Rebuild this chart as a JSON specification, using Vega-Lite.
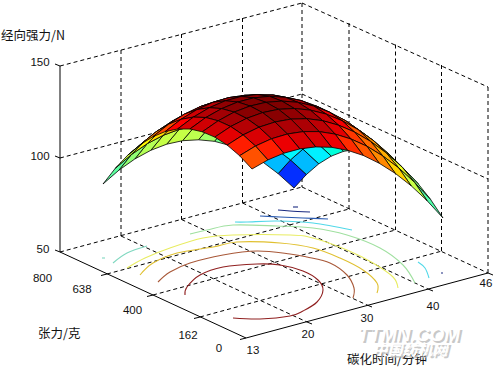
{"$schema":"https://vega.github.io/schema/vega-lite/v6.json","width":497,"height":368,"padding":0,"autosize":{"type":"none"},"background":"white","config":{"view":{"stroke":null}},
"datasets":{
"dash":[{"x":107,"y":274,"x2":349,"y2":209},{"x":153,"y":295,"x2":395.5,"y2":230},{"x":200,"y":317,"x2":442,"y2":251},{"x":121,"y":236,"x2":307,"y2":322},{"x":181.5,"y":219.5,"x2":367,"y2":305},{"x":242.5,"y":203,"x2":428,"y2":289},{"x":60,"y":252,"x2":302,"y2":187},{"x":302,"y":187,"x2":488,"y2":273},{"x":121,"y":50,"x2":121,"y2":236},{"x":181.5,"y":34,"x2":181.5,"y2":219.5},{"x":242.5,"y":18,"x2":242.5,"y2":203},{"x":302,"y":3,"x2":302,"y2":187},{"x":349,"y":23,"x2":349,"y2":209},{"x":395.5,"y":44.5,"x2":395.5,"y2":230},{"x":441.5,"y":65,"x2":441.5,"y2":251},{"x":488,"y":87,"x2":488,"y2":273},{"x":60,"y":158,"x2":302,"y2":94},{"x":302,"y":94,"x2":488,"y2":179},{"x":60,"y":66,"x2":302,"y2":3},{"x":302,"y":3,"x2":488,"y2":87}],
"solid":[{"x":60,"y":66,"x2":60,"y2":252},{"x":60,"y":252,"x2":246,"y2":338},{"x":246,"y":338,"x2":488,"y2":273},{"x":55,"y":64,"x2":60,"y2":66},{"x":55,"y":156,"x2":60,"y2":158},{"x":55,"y":250,"x2":60,"y2":252},{"x":101,"y":275.5,"x2":107,"y2":274},{"x":147,"y":296.5,"x2":153,"y2":295},{"x":194,"y":318.5,"x2":200,"y2":317},{"x":240,"y":339.5,"x2":246,"y2":338},{"x":307,"y":322,"x2":312,"y2":324},{"x":367,"y":305,"x2":372,"y2":307},{"x":428,"y":289,"x2":433,"y2":291},{"x":488,"y":273,"x2":493,"y2":275}],
"contours":[{"l":"c1","lv":"1","x":[278,290,310],"y":[210,211,212]},{"l":"c2","lv":"1","x":[293,298],"y":[207,207]},{"l":"c3","lv":"2","x":[260,280,303,328],"y":[216,217,218,219]},{"l":"c4","lv":"3","x":[235,247,277,313,352],"y":[222,222,221,223,230]},{"l":"c5","lv":"4","x":[113,127,147],"y":[263,253,246]},{"l":"c6","lv":"3","x":[418,425,429],"y":[262,268,278]},{"l":"c7","lv":"4","x":[102,105],"y":[258,258]},{"l":"c8","lv":"1","x":[441,443],"y":[273,273]},{"l":"c9","lv":"5","x":[190,207,233,277,313,347,380,403,415],"y":[234,230,225,226,228,235,248,265,283]},{"l":"c10","lv":"6","x":[127,145,170,203,233,290,313,347,373,393,398],"y":[268,258,248,238,235,235,238,250,263,277,288]},{"l":"c11","lv":"7","x":[140,153,177,213,237,280,313,340,363,377,377],"y":[275,263,253,247,242,243,248,258,270,283,293]},{"l":"c12","lv":"8","x":[158,170,190,223,257,290,307,330,347,354,353],"y":[282,272,263,255,251,254,257,263,275,288,298]},{"l":"c13","lv":"9","x":[185,187,200,223,257,280,303,318,323,317,303,290,260,233],"y":[295,287,275,267,264,265,271,280,290,302,311,316,319,318]}],
"verts":[
{"id":0,"x":252,"y":169},{"id":1,"x":267.9,"y":159.9},{"id":2,"x":283.8,"y":153.2},{"id":3,"x":299.8,"y":148.9},{"id":4,"x":315.7,"y":146.9},{"id":5,"x":331.6,"y":147.3},{"id":6,"x":347.5,"y":150.3},{"id":7,"x":363.4,"y":155.5},{"id":8,"x":379.3,"y":163.3},{"id":9,"x":395.3,"y":173.4},{"id":10,"x":411.2,"y":185.8},{"id":11,"x":427.1,"y":200.7},{"id":12,"x":443,"y":218},
{"id":100,"x":239.6,"y":155.7},{"id":101,"x":255.5,"y":146},{"id":102,"x":271.4,"y":138.8},{"id":103,"x":287.4,"y":134},{"id":104,"x":303.3,"y":131.6},{"id":105,"x":319.2,"y":131.6},{"id":106,"x":335.1,"y":134.1},{"id":107,"x":351,"y":139},{"id":108,"x":366.9,"y":146.2},{"id":109,"x":382.9,"y":156},{"id":110,"x":398.8,"y":168},{"id":111,"x":414.7,"y":182.5},{"id":112,"x":430.6,"y":199.5},
{"id":200,"x":227.2,"y":145.1},{"id":201,"x":243.1,"y":134.9},{"id":202,"x":259,"y":127.2},{"id":203,"x":275,"y":122},{"id":204,"x":290.9,"y":119.1},{"id":205,"x":306.8,"y":118.7},{"id":206,"x":322.7,"y":120.7},{"id":207,"x":338.6,"y":125.2},{"id":208,"x":354.5,"y":132},{"id":209,"x":370.5,"y":141.3},{"id":210,"x":386.4,"y":153},{"id":211,"x":402.3,"y":167.2},{"id":212,"x":418.2,"y":183.8},
{"id":300,"x":214.8,"y":137.1},{"id":301,"x":230.7,"y":126.5},{"id":302,"x":246.6,"y":118.4},{"id":303,"x":262.6,"y":112.6},{"id":304,"x":278.5,"y":109.3},{"id":305,"x":294.4,"y":108.5},{"id":306,"x":310.3,"y":110.1},{"id":307,"x":326.2,"y":114.1},{"id":308,"x":342.1,"y":120.7},{"id":309,"x":358.1,"y":129.6},{"id":310,"x":374,"y":141},{"id":311,"x":389.9,"y":154.9},{"id":312,"x":405.8,"y":171.1},
{"id":400,"x":202.3,"y":131.8},{"id":401,"x":218.2,"y":120.8},{"id":402,"x":234.1,"y":112.1},{"id":403,"x":250.1,"y":106},{"id":404,"x":266,"y":102.3},{"id":405,"x":281.9,"y":101.1},{"id":406,"x":297.8,"y":102.3},{"id":407,"x":313.7,"y":106},{"id":408,"x":329.6,"y":112.2},{"id":409,"x":345.6,"y":120.7},{"id":410,"x":361.5,"y":131.8},{"id":411,"x":377.4,"y":145.3},{"id":412,"x":393.3,"y":161.3},
{"id":500,"x":189.9,"y":129},{"id":501,"x":205.8,"y":117.5},{"id":502,"x":221.7,"y":108.6},{"id":503,"x":237.7,"y":102},{"id":504,"x":253.6,"y":97.9},{"id":505,"x":269.5,"y":96.3},{"id":506,"x":285.4,"y":97.3},{"id":507,"x":301.3,"y":100.6},{"id":508,"x":317.2,"y":106.4},{"id":509,"x":333.2,"y":114.7},{"id":510,"x":349.1,"y":125.6},{"id":511,"x":365,"y":138.8},{"id":512,"x":380.9,"y":154.5},
{"id":600,"x":177.5,"y":129},{"id":601,"x":193.4,"y":117.1},{"id":602,"x":209.3,"y":107.7},{"id":603,"x":225.3,"y":100.8},{"id":604,"x":241.2,"y":96.4},{"id":605,"x":257.1,"y":94.5},{"id":606,"x":273,"y":95},{"id":607,"x":288.9,"y":98},{"id":608,"x":304.8,"y":103.5},{"id":609,"x":320.8,"y":111.5},{"id":610,"x":336.7,"y":122},{"id":611,"x":352.6,"y":135},{"id":612,"x":368.5,"y":150.5},
{"id":700,"x":165.1,"y":131.6},{"id":701,"x":181,"y":119.3},{"id":702,"x":196.9,"y":109.6},{"id":703,"x":212.9,"y":102.3},{"id":704,"x":228.8,"y":97.6},{"id":705,"x":244.7,"y":95.3},{"id":706,"x":260.6,"y":95.6},{"id":707,"x":276.5,"y":98.3},{"id":708,"x":292.4,"y":103.5},{"id":709,"x":308.4,"y":111.3},{"id":710,"x":324.3,"y":121.5},{"id":711,"x":340.2,"y":134.3},{"id":712,"x":356.1,"y":149.5},
{"id":800,"x":152.7,"y":136.8},{"id":801,"x":168.6,"y":124.2},{"id":802,"x":184.5,"y":114.1},{"id":803,"x":200.5,"y":106.5},{"id":804,"x":216.4,"y":101.4},{"id":805,"x":232.3,"y":98.8},{"id":806,"x":248.2,"y":98.8},{"id":807,"x":264.1,"y":101.3},{"id":808,"x":280,"y":106.3},{"id":809,"x":296,"y":113.8},{"id":810,"x":311.9,"y":123.8},{"id":811,"x":327.8,"y":136.3},{"id":812,"x":343.7,"y":151.3},
{"id":900,"x":140.3,"y":144.6},{"id":901,"x":156.2,"y":131.7},{"id":902,"x":172.1,"y":121.2},{"id":903,"x":188.1,"y":113.4},{"id":904,"x":204,"y":108},{"id":905,"x":219.9,"y":105.2},{"id":906,"x":235.8,"y":104.8},{"id":907,"x":251.7,"y":107.1},{"id":908,"x":267.6,"y":111.9},{"id":909,"x":283.6,"y":119.1},{"id":910,"x":299.5,"y":128.9},{"id":911,"x":315.4,"y":141.2},{"id":912,"x":331.3,"y":156.1},
{"id":1000,"x":127.8,"y":155.1},{"id":1001,"x":143.7,"y":141.8},{"id":1002,"x":159.6,"y":131.2},{"id":1003,"x":175.6,"y":123},{"id":1004,"x":191.5,"y":117.3},{"id":1005,"x":207.4,"y":114.2},{"id":1006,"x":223.3,"y":113.7},{"id":1007,"x":239.2,"y":115.7},{"id":1008,"x":255.1,"y":120.2},{"id":1009,"x":271.1,"y":127.3},{"id":1010,"x":287,"y":137},{"id":1011,"x":302.9,"y":149.1},{"id":1012,"x":318.8,"y":163.8},
{"id":1100,"x":115.4,"y":168.2},{"id":1101,"x":131.3,"y":154.6},{"id":1102,"x":147.2,"y":143.7},{"id":1103,"x":163.2,"y":135.3},{"id":1104,"x":179.1,"y":129.4},{"id":1105,"x":195,"y":126.1},{"id":1106,"x":210.9,"y":125.4},{"id":1107,"x":226.8,"y":127.2},{"id":1108,"x":242.7,"y":131.5},{"id":1109,"x":258.7,"y":138.4},{"id":1110,"x":274.6,"y":147.9},{"id":1111,"x":290.5,"y":159.9},{"id":1112,"x":306.4,"y":174.5},
{"id":1200,"x":103,"y":184},{"id":1201,"x":118.9,"y":170.2},{"id":1202,"x":134.8,"y":159},{"id":1203,"x":150.8,"y":150.3},{"id":1204,"x":166.7,"y":144.2},{"id":1205,"x":182.6,"y":140.7},{"id":1206,"x":198.5,"y":139.8},{"id":1207,"x":214.4,"y":141.3},{"id":1208,"x":230.3,"y":145.6},{"id":1209,"x":246.3,"y":152.3},{"id":1210,"x":262.2,"y":161.6},{"id":1211,"x":278.1,"y":173.6},{"id":1212,"x":294,"y":188}],
"quads":[
{"q":1111,"z":0.15,"k":[1111,1211,1212,1112,1111]},{"q":1110,"z":0.33,"k":[1110,1210,1211,1111,1110]},{"q":1109,"z":0.41,"k":[1109,1209,1210,1110,1109]},{"q":1108,"z":0.49,"k":[1108,1208,1209,1109,1108]},{"q":1107,"z":0.55,"k":[1107,1207,1208,1108,1107]},{"q":1106,"z":0.60,"k":[1106,1206,1207,1107,1106]},{"q":1105,"z":0.63,"k":[1105,1205,1206,1106,1105]},{"q":1104,"z":0.64,"k":[1104,1204,1205,1105,1104]},{"q":1103,"z":0.64,"k":[1103,1203,1204,1104,1103]},{"q":1102,"z":0.62,"k":[1102,1202,1203,1103,1102]},{"q":1101,"z":0.58,"k":[1101,1201,1202,1102,1101]},{"q":1100,"z":0.53,"k":[1100,1200,1201,1101,1100]},
{"q":1011,"z":0.33,"k":[1011,1111,1112,1012,1011]},{"q":1010,"z":0.41,"k":[1010,1110,1111,1011,1010]},{"q":1009,"z":0.51,"k":[1009,1109,1110,1010,1009]},{"q":1008,"z":0.60,"k":[1008,1108,1109,1009,1008]},{"q":1007,"z":0.66,"k":[1007,1107,1108,1008,1007]},{"q":1006,"z":0.71,"k":[1006,1106,1107,1007,1006]},{"q":1005,"z":0.75,"k":[1005,1105,1106,1006,1005]},{"q":1004,"z":0.76,"k":[1004,1104,1105,1005,1004]},{"q":1003,"z":0.76,"k":[1003,1103,1104,1004,1003]},{"q":1002,"z":0.74,"k":[1002,1102,1103,1003,1002]},{"q":1001,"z":0.71,"k":[1001,1101,1102,1002,1001]},{"q":1000,"z":0.65,"k":[1000,1100,1101,1001,1000]},
{"q":911,"z":0.40,"k":[911,1011,1012,912,911]},{"q":910,"z":0.50,"k":[910,1010,1011,911,910]},{"q":909,"z":0.61,"k":[909,1009,1010,910,909]},{"q":908,"z":0.69,"k":[908,1008,1009,909,908]},{"q":907,"z":0.76,"k":[907,1007,1008,908,907]},{"q":906,"z":0.81,"k":[906,1006,1007,907,906]},{"q":905,"z":0.85,"k":[905,1005,1006,906,905]},{"q":904,"z":0.86,"k":[904,1004,1005,905,904]},{"q":903,"z":0.86,"k":[903,1003,1004,904,903]},{"q":902,"z":0.85,"k":[902,1002,1003,903,902]},{"q":901,"z":0.81,"k":[901,1001,1002,902,901]},{"q":900,"z":0.76,"k":[900,1000,1001,901,900]},
{"q":811,"z":0.47,"k":[811,911,912,812,811]},{"q":810,"z":0.58,"k":[810,910,911,811,810]},{"q":809,"z":0.68,"k":[809,909,910,810,809]},{"q":808,"z":0.77,"k":[808,908,909,809,808]},{"q":807,"z":0.84,"k":[807,907,908,808,807]},{"q":806,"z":0.89,"k":[806,906,907,807,806]},{"q":805,"z":0.93,"k":[805,905,906,806,805]},{"q":804,"z":0.95,"k":[804,904,905,805,804]},{"q":803,"z":0.95,"k":[803,903,904,804,803]},{"q":802,"z":0.94,"k":[802,902,903,803,802]},{"q":801,"z":0.90,"k":[801,901,902,802,801]},{"q":800,"z":0.85,"k":[800,900,901,801,800]},
{"q":711,"z":0.51,"k":[711,811,812,712,711]},{"q":710,"z":0.64,"k":[710,810,811,711,710]},{"q":709,"z":0.74,"k":[709,809,810,710,709]},{"q":708,"z":0.83,"k":[708,808,809,709,708]},{"q":707,"z":0.91,"k":[707,807,808,708,707]},{"q":706,"z":0.96,"k":[706,806,807,707,706]},{"q":705,"z":1.00,"k":[705,805,806,706,705]},{"q":704,"z":1.02,"k":[704,804,805,705,704]},{"q":703,"z":1.02,"k":[703,803,804,704,703]},{"q":702,"z":1.01,"k":[702,802,803,703,702]},{"q":701,"z":0.97,"k":[701,801,802,702,701]},{"q":700,"z":0.93,"k":[700,800,801,701,700]},
{"q":611,"z":0.56,"k":[611,711,712,612,611]},{"q":610,"z":0.68,"k":[610,710,711,611,610]},{"q":609,"z":0.79,"k":[609,709,710,610,609]},{"q":608,"z":0.88,"k":[608,708,709,609,608]},{"q":607,"z":0.95,"k":[607,707,708,608,607]},{"q":606,"z":1.01,"k":[606,706,707,607,606]},{"q":605,"z":1.05,"k":[605,705,706,606,605]},{"q":604,"z":1.07,"k":[604,704,705,605,604]},{"q":603,"z":1.07,"k":[603,703,704,604,603]},{"q":602,"z":1.06,"k":[602,702,703,603,602]},{"q":601,"z":1.03,"k":[601,701,702,602,601]},{"q":600,"z":0.98,"k":[600,700,701,601,600]},
{"q":511,"z":0.58,"k":[511,611,612,512,511]},{"q":510,"z":0.71,"k":[510,610,611,511,510]},{"q":509,"z":0.82,"k":[509,609,610,510,509]},{"q":508,"z":0.91,"k":[508,608,609,509,508]},{"q":507,"z":0.99,"k":[507,607,608,508,507]},{"q":506,"z":1.04,"k":[506,606,607,507,506]},{"q":505,"z":1.08,"k":[505,605,606,506,505]},{"q":504,"z":1.10,"k":[504,604,605,505,504]},{"q":503,"z":1.11,"k":[503,603,604,504,503]},{"q":502,"z":1.10,"k":[502,602,603,503,502]},{"q":501,"z":1.06,"k":[501,601,602,502,501]},{"q":500,"z":1.02,"k":[500,600,601,501,500]},
{"q":411,"z":0.60,"k":[411,511,512,412,411]},{"q":410,"z":0.72,"k":[410,510,511,411,410]},{"q":409,"z":0.83,"k":[409,509,510,410,409]},{"q":408,"z":0.93,"k":[408,508,509,409,408]},{"q":407,"z":1.00,"k":[407,507,508,408,407]},{"q":406,"z":1.06,"k":[406,506,507,407,406]},{"q":405,"z":1.10,"k":[405,505,506,406,405]},{"q":404,"z":1.12,"k":[404,504,505,405,404]},{"q":403,"z":1.12,"k":[403,503,504,404,403]},{"q":402,"z":1.11,"k":[402,502,503,403,402]},{"q":401,"z":1.08,"k":[401,501,502,402,401]},{"q":400,"z":1.03,"k":[400,500,501,401,400]},
{"q":311,"z":0.60,"k":[311,411,412,312,311]},{"q":310,"z":0.72,"k":[310,410,411,311,310]},{"q":309,"z":0.83,"k":[309,409,410,310,309]},{"q":308,"z":0.93,"k":[308,408,409,309,308]},{"q":307,"z":1.00,"k":[307,407,408,308,307]},{"q":306,"z":1.06,"k":[306,406,407,307,306]},{"q":305,"z":1.10,"k":[305,405,406,306,305]},{"q":304,"z":1.12,"k":[304,404,405,305,304]},{"q":303,"z":1.12,"k":[303,403,404,304,303]},{"q":302,"z":1.11,"k":[302,402,403,303,302]},{"q":301,"z":1.08,"k":[301,401,402,302,301]},{"q":300,"z":1.03,"k":[300,400,401,301,300]},
{"q":211,"z":0.58,"k":[211,311,312,212,211]},{"q":210,"z":0.71,"k":[210,310,311,211,210]},{"q":209,"z":0.82,"k":[209,309,310,210,209]},{"q":208,"z":0.91,"k":[208,308,309,209,208]},{"q":207,"z":0.99,"k":[207,307,308,208,207]},{"q":206,"z":1.04,"k":[206,306,307,207,206]},{"q":205,"z":1.08,"k":[205,305,306,206,205]},{"q":204,"z":1.10,"k":[204,304,305,205,204]},{"q":203,"z":1.11,"k":[203,303,304,204,203]},{"q":202,"z":1.09,"k":[202,302,303,203,202]},{"q":201,"z":1.06,"k":[201,301,302,202,201]},{"q":200,"z":1.01,"k":[200,300,301,201,200]},
{"q":111,"z":0.56,"k":[111,211,212,112,111]},{"q":110,"z":0.68,"k":[110,210,211,111,110]},{"q":109,"z":0.79,"k":[109,209,210,110,109]},{"q":108,"z":0.88,"k":[108,208,209,109,108]},{"q":107,"z":0.95,"k":[107,207,208,108,107]},{"q":106,"z":1.01,"k":[106,206,207,107,106]},{"q":105,"z":1.05,"k":[105,205,206,106,105]},{"q":104,"z":1.07,"k":[104,204,205,105,104]},{"q":103,"z":1.07,"k":[103,203,204,104,103]},{"q":102,"z":1.06,"k":[102,202,203,103,102]},{"q":101,"z":1.02,"k":[101,201,202,102,101]},{"q":100,"z":0.97,"k":[100,200,201,101,100]},
{"q":11,"z":0.52,"k":[11,111,112,12,11]},{"q":10,"z":0.64,"k":[10,110,111,11,10]},{"q":9,"z":0.75,"k":[9,109,110,10,9]},{"q":8,"z":0.83,"k":[8,108,109,9,8]},{"q":7,"z":0.91,"k":[7,107,108,8,7]},{"q":6,"z":0.96,"k":[6,106,107,7,6]},{"q":5,"z":1.00,"k":[5,105,106,6,5]},{"q":4,"z":1.02,"k":[4,104,105,5,4]},{"q":3,"z":1.02,"k":[3,103,104,4,3]},{"q":2,"z":1.00,"k":[2,102,103,3,2]},{"q":1,"z":0.97,"k":[1,101,102,2,1]},{"q":0,"z":0.92,"k":[0,100,101,1,0]}],
"nums":[{"x":40,"y":63,"t":"150"},{"x":40,"y":157,"t":"100"},{"x":43,"y":250,"t":"50"},{"x":42.5,"y":279,"t":"800"},{"x":82,"y":290,"t":"638"},{"x":132.5,"y":311,"t":"400"},{"x":188,"y":336,"t":"162"},{"x":219,"y":349,"t":"0"},{"x":253,"y":351,"t":"13"},{"x":308,"y":335,"t":"20"},{"x":367,"y":319,"t":"30"},{"x":433,"y":307,"t":"40"},{"x":486,"y":284,"t":"46"}],
"titles":[{"x":1,"y":36,"t":"经向强力/N"},{"x":38,"y":334,"t":"张力/克"},{"x":347,"y":360,"t":"碳化时间/分钟"}],
"mark1":[{"x":409,"y":335,"t":"TTMN.COM"}],
"mark2":[{"x":410,"y":350,"t":"中国纺机网"}]
},
"encoding":{"x":{"field":"x","type":"quantitative","axis":null,"scale":{"domain":[0,497],"nice":false,"zero":false}},"y":{"field":"y","type":"quantitative","axis":null,"scale":{"domain":[368,0],"nice":false,"zero":false}}},
"layer":[
{"data":{"name":"dash"},"mark":{"type":"rule","color":"#000","strokeWidth":1,"strokeDash":[4,3]},"encoding":{"x2":{"field":"x2"},"y2":{"field":"y2"}}},
{"data":{"name":"contours"},"transform":[{"flatten":["x","y"]},{"window":[{"op":"row_number","as":"o"}],"groupby":["l"]}],"mark":{"type":"line","strokeWidth":1.1,"interpolate":"cardinal"},"encoding":{"detail":{"field":"l"},"order":{"field":"o","type":"quantitative"},"stroke":{"field":"lv","type":"nominal","legend":null,"scale":{"domain":["1","2","3","4","5","6","7","8","9"],"range":["#1a2a80","#2a5ab0","#50d8e8","#80d8c0","#a0e0a0","#e8ec60","#e0c030","#a85838","#902020"]}}}},
{"data":{"name":"solid"},"mark":{"type":"rule","color":"#000","strokeWidth":1},"encoding":{"x2":{"field":"x2"},"y2":{"field":"y2"}}},
{"data":{"name":"quads"},"transform":[{"flatten":["k"]},{"window":[{"op":"row_number","as":"o"}],"groupby":["q"]},{"lookup":"k","from":{"data":{"name":"verts"},"key":"id","fields":["x","y"]}}],"mark":{"type":"line","stroke":"#000","strokeWidth":0.8,"strokeJoin":"round"},"encoding":{"detail":{"field":"q"},"order":{"field":"o","type":"quantitative"},"fill":{"field":"z","type":"quantitative","legend":null,"scale":{"domain":[0,0.14,0.28,0.42,0.56,0.7,0.84,0.98,1.12],"range":["#000080","#2020ff","#1090ff","#20ffff","#80ff80","#ffff00","#ff8000","#ff0000","#800000"],"clamp":true}}}},
{"data":{"name":"nums"},"mark":{"type":"text","font":"Liberation Sans","fontSize":11.5,"color":"#111","align":"center","baseline":"middle"},"encoding":{"text":{"field":"t"}}},
{"data":{"name":"titles"},"mark":{"type":"text","font":"Noto Sans CJK SC","fontSize":12.5,"color":"#111","align":"left","baseline":"middle"},"encoding":{"text":{"field":"t"}}},
{"data":{"name":"mark1"},"mark":{"type":"text","font":"Liberation Sans","fontSize":19,"fontWeight":"bold","fontStyle":"italic","color":"#bbbbbb","align":"center","baseline":"middle","dx":2,"dy":2,"opacity":0.8},"encoding":{"text":{"field":"t"}}},
{"data":{"name":"mark1"},"mark":{"type":"text","font":"Liberation Sans","fontSize":19,"fontWeight":"bold","fontStyle":"italic","color":"#ffffff","align":"center","baseline":"middle"},"encoding":{"text":{"field":"t"}}},
{"data":{"name":"mark2"},"mark":{"type":"text","font":"Noto Sans CJK SC","fontSize":15,"fontWeight":"bold","fontStyle":"italic","color":"#bbbbbb","align":"center","baseline":"middle","dx":2,"dy":2,"opacity":0.8},"encoding":{"text":{"field":"t"}}},
{"data":{"name":"mark2"},"mark":{"type":"text","font":"Noto Sans CJK SC","fontSize":15,"fontWeight":"bold","fontStyle":"italic","color":"#ffffff","align":"center","baseline":"middle"},"encoding":{"text":{"field":"t"}}}
]}
